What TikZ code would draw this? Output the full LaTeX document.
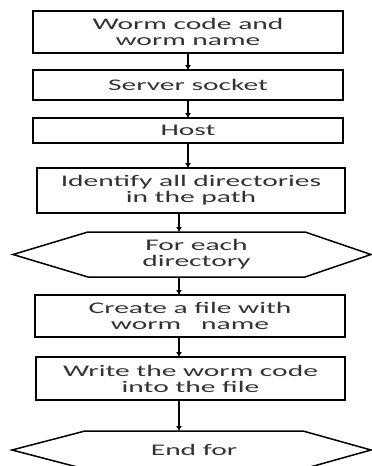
\documentclass[tikz,border=0pt]{standalone}
\usepackage{fontspec}
\newfontfamily\boxfont[FakeStretch=1.82]{Carlito}
\usetikzlibrary{arrows.meta,calc}
\begin{document}
\begin{tikzpicture}[x=1pt,y=-1pt,
  txt/.style={font=\boxfont\fontsize{16.2}{16}\selectfont, text=black!80, align=center, inner sep=0pt, outer sep=0pt},
  box/.style={txt, draw=black, line width=1.4pt,
    append after command={\pgfextra{\let\mynode\tikzlastnode}
      (\mynode.north west) edge[line width=2.8pt, shorten <=-0.7pt, shorten >=-0.7pt] (\mynode.south west)
      (\mynode.north east) edge[line width=2.8pt, shorten <=-0.7pt, shorten >=-0.7pt] (\mynode.south east)}},
  hexin/.style={txt},
  hexline/.style={draw=black, line width=1.5pt, line join=miter},
  arr/.style={draw=black, line width=1.3pt, -{Latex[length=5pt,width=6pt]}}]
\useasboundingbox (0,0) rectangle (372,466);
\fill[white] (0,0) rectangle (372,466);

\coordinate (ax) at (188,0);
\coordinate (bx) at (179,0);

\node[box, minimum width=310, minimum height=42] (b1) at (188,32) {Worm code and\\worm name};
\node[box, minimum width=310, minimum height=30] (b2) at (188,85) {Server socket};
\node[box, minimum width=310, minimum height=25] (b3) at (188,130.5) {Host};
\node[box, minimum width=308, minimum height=45] (b4) at (191,190.5) {Identify all directories\\in the path};
\node[hexin, minimum width=217, minimum height=45] (h1) at (196.5,254.5) {For each\\directory};
\node[box, minimum width=310, minimum height=42] (b5) at (190,316) {Create a file with\\worm\ \ \ name};
\node[box, minimum width=309, minimum height=43] (b6) at (190.5,378.5) {Write the worm code\\into the file};
\node[hexin, minimum width=218, minimum height=38] (h2) at (194,450) {End for};

\draw[hexline] (h1.north west) -- (h1.north east) -- ($(h1.east)+(66,0)$) -- (h1.south east)
  -- (h1.south west) -- ($(h1.west)+(-75,0)$) -- cycle;
\draw[hexline] (h2.north west) -- (h2.north east) -- ($(h2.east)+(68,0)$) -- (h2.south east)
  -- (h2.south west) -- ($(h2.west)+(-73,0)$) -- cycle;

\draw[arr] (b1.south -| ax) -- (b2.north -| ax);
\draw[arr] (b2.south -| ax) -- (b3.north -| ax);
\draw[arr] (b3.south -| ax) -- (b4.north -| ax);
\draw[arr] (b4.south -| bx) -- (h1.north -| bx);
\draw[arr] (h1.south -| bx) -- (b5.north -| bx);
\draw[arr] (b5.south -| bx) -- (b6.north -| bx);
\draw[arr] (b6.south -| bx) -- (h2.north -| bx);
\end{tikzpicture}
\end{document}
